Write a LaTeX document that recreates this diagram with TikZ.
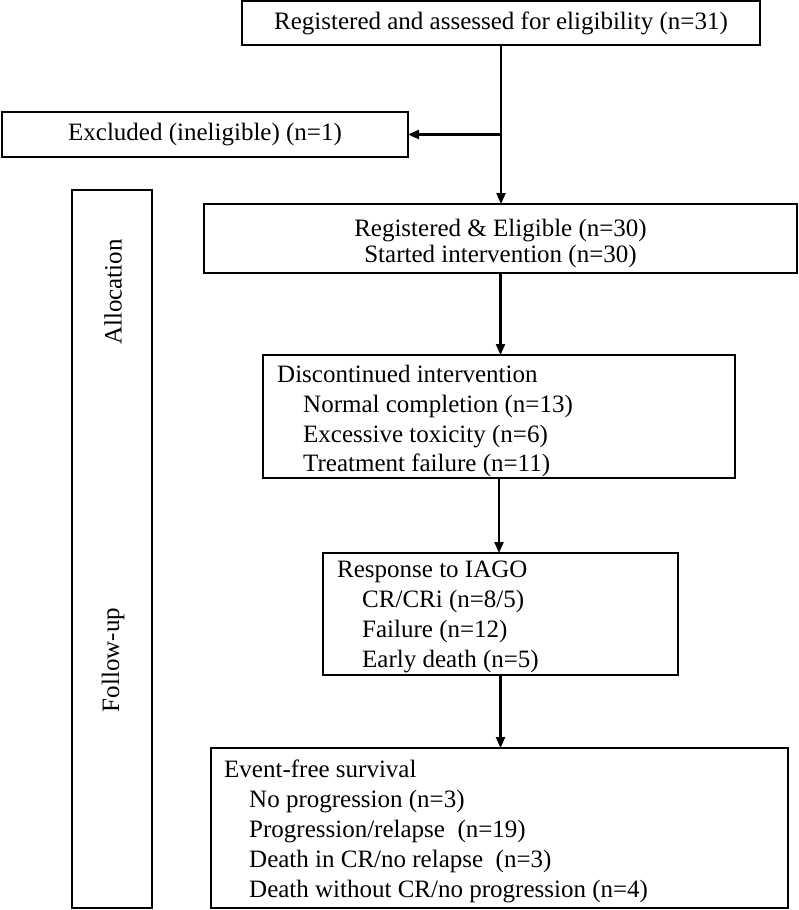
\documentclass[tikz,border=0pt]{standalone}
\usepackage{fontspec}
\setmainfont{Liberation Serif}
\usetikzlibrary{arrows.meta}
\begin{document}
\begin{tikzpicture}[x=1pt,y=-1pt,
 box/.style={draw,line width=2.2pt,inner sep=0pt,outer sep=0pt},
 fs/.style={font=\fontsize{25}{29}\selectfont},
 ln/.style={fs,inner sep=0pt,anchor=base west},
 cl/.style={fs,inner sep=0pt,anchor=base},
 arr/.style={line width=2.2pt,-{Triangle[length=11pt,width=9pt]}}]
\useasboundingbox (0,0) rectangle (799,910);
% boxes
\node[box,fs,minimum width=518pt,minimum height=44pt] (top) at (501,23) {Registered and assessed for eligibility (n=31)};
\node[box,fs,minimum width=406pt,minimum height=45pt] (ex) at (205,134.5) {Excluded (ineligible) (n=1)};
\node[box,minimum width=593pt,minimum height=69pt] (re) at (500.5,238.5) {};
\node[cl] (re1) at (500.5,236) {Registered \& Eligible (n=30)};
\node[cl] (re2) at (500.5,262.5) {Started intervention (n=30)};
% side column
\node[box,minimum width=80pt,minimum height=718pt] (col) at (112,549) {};
\node[fs,rotate=90,inner sep=0pt] (alloc) at (113,292) {Allocation};
\node[fs,rotate=90,inner sep=0pt] (fu) at (113,660) {Follow-up};
% discontinued
\node[box,minimum width=472pt,minimum height=123pt] (disc) at (499,416.5) {};
\node[ln] (d1) at (277,382) {Discontinued intervention};
\node[ln] (d2) at (303,412) {Normal completion (n=13)};
\node[ln] (d3) at (303,442) {Excessive toxicity (n=6)};
\node[ln] (d4) at (303,471) {Treatment failure (n=11)};
% response
\node[box,minimum width=355pt,minimum height=122pt] (resp) at (500.5,614) {};
\node[ln] (r1) at (337,577) {Response to IAGO};
\node[ln] (r2) at (362,607) {CR/CRi (n=8/5)};
\node[ln] (r3) at (362,637) {Failure (n=12)};
\node[ln] (r4) at (362,667) {Early death (n=5)};
% event-free
\node[box,minimum width=577pt,minimum height=160pt] (efs) at (499.5,828) {};
\node[ln] (e1) at (224,777) {Event-free survival};
\node[ln] (e2) at (249,807) {No progression (n=3)};
\node[ln] (e3) at (249,837) {Progression/relapse\ \ (n=19)};
\node[ln] (e4) at (249,867) {Death in CR/no relapse\ \ (n=3)};
\node[ln] (e5) at (249,897) {Death without CR/no progression (n=4)};
% connectors
\coordinate (j) at (top.south |- ex.east);
\draw[arr] (top.south) -- (top.south |- re.north);
\draw[arr] (j) -- (ex.east);
\draw[arr] (re.south) -- (re.south |- disc.north);
\draw[arr] (disc.south) -- (disc.south |- resp.north);
\draw[arr] (resp.south) -- (resp.south |- efs.north);
\end{tikzpicture}
\end{document}
